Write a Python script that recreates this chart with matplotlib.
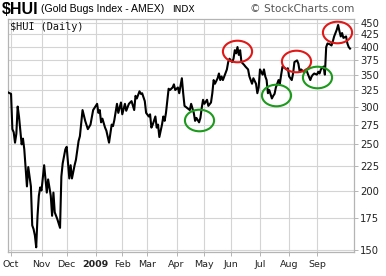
import numpy as np
import matplotlib
matplotlib.use("Agg")
import matplotlib.pyplot as plt
from matplotlib.path import Path
from matplotlib.transforms import Affine2D

# ---- data (session = trading days since 2008-09-29) ----
session = [0, 2, 3, 4, 5, 6, 7, 8, 10, 11, 12, 14, 15, 17, 18, 19, 20, 21, 22, 23,
           24, 25, 27, 29, 30, 32, 33, 34, 35, 37, 39, 40, 41, 43, 44, 46, 47, 48, 50, 51,
           53, 54, 56, 58, 60, 62, 64, 66, 67, 68, 69, 70, 71, 73, 74, 76, 78, 79, 80, 82,
           83, 85, 86, 88, 89, 91, 93, 95, 96, 97, 99, 100, 101, 103, 104, 106, 107, 108, 109, 111,
           112, 113, 114, 116, 117, 118, 119, 121, 122, 124, 125, 126, 128, 129, 131, 132, 133, 135, 137, 138,
           140, 141, 142, 144, 145, 146, 147, 148, 150, 151, 153, 154, 155, 156, 158, 159, 160, 161, 162, 165,
           166, 167, 169, 170, 171, 172, 173, 174, 175, 176, 178, 179, 181, 182, 183, 184, 185, 187, 188, 189,
           190, 192, 193, 194, 195, 196, 197, 199, 200, 201, 202, 204, 205, 206, 207, 209, 210, 211, 212, 214,
           215, 216, 218, 219, 220, 221, 223, 225, 226, 228, 229, 230, 231, 233, 234, 235, 236, 238, 239, 240,
           241, 243, 244, 245, 246, 248, 249, 250, 251, 252, 253, 255, 256, 257, 258]
hui = [321, 319, 269, 265, 252, 263, 300, 286, 250, 257, 244, 204, 224, 204, 169, 166, 161, 152, 177, 195,
       203, 200, 226, 198, 211, 195, 177, 198, 180, 174, 167, 214, 228, 244, 247, 212, 226, 212, 226, 232,
       254, 260, 295, 280, 269, 275, 295, 301, 304, 291, 295, 278, 283, 271, 267, 252, 275, 273, 281, 304,
       291, 306, 289, 304, 294, 304, 308, 295, 316, 312, 323, 319, 320, 308, 291, 286, 289, 271, 275, 286,
       271, 275, 259, 275, 286, 280, 291, 327, 325, 329, 334, 325, 329, 320, 344, 320, 301, 298, 295, 304,
       291, 280, 284, 278, 284, 298, 310, 304, 310, 301, 306, 320, 341, 335, 344, 352, 341, 347, 341, 359,
       372, 378, 372, 378, 394, 388, 400, 385, 394, 372, 367, 364, 359, 347, 341, 335, 344, 335, 320, 329,
       359, 350, 359, 347, 341, 320, 325, 312, 316, 319, 329, 341, 335, 350, 364, 361, 359, 361, 347, 341,
       352, 372, 375, 369, 355, 359, 355, 359, 352, 341, 347, 350, 352, 350, 355, 352, 359, 364, 350, 400,
       407, 405, 403, 411, 421, 435, 445, 432, 421, 428, 418, 421, 407, 400, 397]

# highlighted peaks (red) and troughs (green)
peak_session = [173, 217, 248]
peak_value = [393, 374, 430]
trough_session = [144, 202, 233]
trough_value = [281, 317, 346]

origin = "2008-09-29"
holidays = ["2008-11-27", "2008-12-25", "2009-01-01", "2009-01-19", "2009-02-16",
            "2009-04-10", "2009-05-25", "2009-07-03", "2009-09-07"]
month_starts = ["2008-10-01", "2008-11-01", "2008-12-01", "2009-01-01", "2009-02-01", "2009-03-01",
                "2009-04-01", "2009-05-01", "2009-06-01", "2009-07-01", "2009-08-01", "2009-09-01"]
month_labels = ["Oct", "Nov", "Dec", "2009", "Feb", "Mar", "Apr", "May", "Jun", "Jul", "Aug", "Sep"]
y_ticks = [150, 175, 200, 225, 250, 275, 300, 325, 350, 375, 400, 425, 450]

month_pos = [int(np.busday_count(origin, np.busday_offset(m, 0, roll="forward", holidays=holidays),
                                 holidays=holidays)) for m in month_starts]

W, H = 386, 276
fig = plt.figure(figsize=(W / 100, H / 100), dpi=100)
ax = fig.add_axes([8 / W, (H - 252) / H, 346 / W, 233 / H])

grid_c = "#d4d4d4"
frame_c = "#b4b4b4"

ax.plot(session, hui, color="black", lw=1.5, solid_joinstyle="round", zorder=3)

ell = Path(Affine2D().scale(1.0, 0.74).transform(Path.unit_circle().vertices), Path.unit_circle().codes)
ax.plot(peak_session, peak_value, ls="none", marker=ell, markersize=21, mfc="none",
        mec="#e01818", mew=1.5, zorder=4)
ax.plot(trough_session, trough_value, ls="none", marker=ell, markersize=21, mfc="none",
        mec="#1c9a1c", mew=1.5, zorder=4)

ax.set_yscale("log")
ax.set_ylim(148.6, 458)
ax.set_xlim(-0.3, 261)

ax.set_yticks(y_ticks)
ax.set_yticklabels([str(v) for v in y_ticks])
ax.yaxis.set_minor_locator(matplotlib.ticker.NullLocator())
ax.yaxis.tick_right()
ax.set_xticks(month_pos)
ax.set_xticklabels(month_labels)
for lab in ax.get_xticklabels():
    if lab.get_text() == "2009":
        lab.set_fontweight("bold")
        lab.set_fontsize(7.5)

ax.tick_params(axis="y", which="both", length=3, width=0.7, color=frame_c, labelsize=7.2,
               pad=1.5, labelcolor="#222222", direction="out")
ax.tick_params(axis="x", length=3, width=0.7, color=frame_c, labelsize=6.8, pad=3,
               labelcolor="#222222", direction="out")
for lab in ax.get_yticklabels() + ax.get_xticklabels():
    lab.set_family("DejaVu Sans")

ax.grid(True, which="major", color=grid_c, lw=0.8)
ax.set_axisbelow(True)
for s in ax.spines.values():
    s.set_color(frame_c)
    s.set_linewidth(0.9)

ax.text(0.006, 0.985, "$HUI (Daily)", transform=ax.transAxes, ha="left", va="top",
        fontsize=7.4, family="DejaVu Sans Mono", color="#111111")

fig.text(2 / W, 1 - 2 / H, "$HUI", ha="left", va="top", fontsize=11.5, fontweight="bold",
         family="Liberation Sans")
fig.text(41 / W, 1 - 3.5 / H, "(Gold Bugs Index - AMEX)", ha="left", va="top", fontsize=7.6,
         family="Liberation Sans")
fig.text(172 / W, 1 - 5 / H, "INDX", ha="left", va="top", fontsize=6.6, family="DejaVu Sans")
fig.text(354 / W, 1 - 4 / H, "\u00a9 StockCharts.com", ha="right", va="top", fontsize=7.6,
         family="DejaVu Sans", color="#555555")

fig.savefig("out.png", dpi=100)
